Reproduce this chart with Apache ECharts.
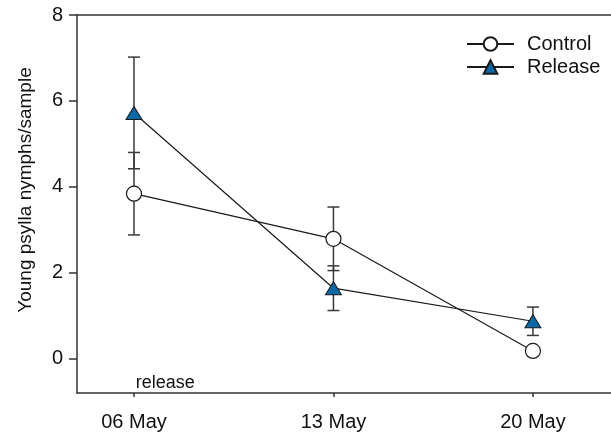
<!DOCTYPE html>
<html>
<head>
<meta charset="utf-8">
<script src="https://cdn.jsdelivr.net/npm/echarts@6/dist/echarts.min.js"></script>
<style>
  html, body { margin: 0; padding: 0; background: #fff; }
  #chart { width: 611px; height: 434px; }
</style>
</head>
<body>
<div id="chart"></div>
<script>
// Sampling days in May and their tick labels
const days = [6, 13, 20];
const dayLabels = ['06 May', '13 May', '20 May'];

// Mean young psylla nymphs per sample and standard errors
const controlMean = [3.84, 2.79, 0.18];
const controlErr = [0.96, 0.74, 0.10];
const releaseMean = [5.72, 1.64, 0.87];
const releaseErr = [1.30, 0.52, 0.33];

const yTicks = [0, 2, 4, 6, 8];

const FONT = '"Liberation Sans", Arial, sans-serif';

function pairs(xs, ys) { return xs.map((x, i) => [x, ys[i]]); }
function errRows(xs, m, e) { return xs.map((x, i) => [x, m[i] - e[i], m[i] + e[i]]); }

function errorBars(name, rows) {
  return {
    type: 'custom',
    name: name + ' SE',
    z: 1,
    silent: true,
    data: rows,
    renderItem: function (params, api) {
      const x = api.value(0);
      const lo = api.coord([x, api.value(1)]);
      const hi = api.coord([x, api.value(2)]);
      const hw = 6;
      const style = { stroke: '#3a3a3a', lineWidth: 1.5 };
      return {
        type: 'group',
        children: [
          { type: 'line', shape: { x1: lo[0], y1: lo[1], x2: hi[0], y2: hi[1] }, style: style },
          { type: 'line', shape: { x1: lo[0] - hw, y1: lo[1], x2: lo[0] + hw, y2: lo[1] }, style: style },
          { type: 'line', shape: { x1: hi[0] - hw, y1: hi[1], x2: hi[0] + hw, y2: hi[1] }, style: style }
        ]
      };
    }
  };
}

const chart = echarts.init(document.getElementById('chart'), null, { renderer: 'canvas' });

chart.setOption({
  animation: false,
  backgroundColor: '#ffffff',
  grid: { left: 77, top: 15, right: 0, bottom: 41, containLabel: false },
  legend: {
    orient: 'vertical',
    left: 461,
    top: 29,
    itemGap: 3,
    itemWidth: 47,
    itemHeight: 17,
    data: ['Control', 'Release'],
    textStyle: { fontFamily: FONT, fontSize: 20, color: '#111', padding: [0, 0, 0, 8] }
  },
  xAxis: [{
    type: 'value',
    min: 4,
    max: 22.74,
    axisLine: { show: true, onZero: false, lineStyle: { color: '#333', width: 1.5 } },
    axisTick: { show: true, length: 4, inside: false, customValues: days, lineStyle: { color: '#333', width: 1.5 } },
    axisLabel: {
      show: true,
      customValues: days,
      margin: 19,
      fontFamily: FONT,
      fontSize: 20,
      color: '#111',
      formatter: function (v) { return dayLabels[days.indexOf(v)] || ''; }
    },
    splitLine: { show: false }
  }, {
    type: 'value',
    position: 'top',
    min: 4,
    max: 22.74,
    axisLine: { show: true, onZero: false, lineStyle: { color: '#333', width: 1.5 } },
    axisTick: { show: false },
    axisLabel: { show: false },
    splitLine: { show: false }
  }],
  yAxis: {
    type: 'value',
    min: -0.8,
    max: 8,
    name: 'Young psylla nymphs/sample',
    nameLocation: 'middle',
    nameGap: 42,
    nameTextStyle: { fontFamily: FONT, fontSize: 19, color: '#111', padding: [0, 0, 0, 28] },
    axisLine: { show: true, onZero: false, lineStyle: { color: '#333', width: 1.5 } },
    axisTick: { show: true, length: 8, customValues: yTicks, lineStyle: { color: '#333', width: 1.5 } },
    axisLabel: {
      customValues: yTicks,
      margin: 14,
      fontFamily: FONT,
      fontSize: 20,
      color: '#111'
    },
    splitLine: { show: false }
  },
  series: [
    errorBars('Control', errRows(days, controlMean, controlErr)),
    errorBars('Release', errRows(days, releaseMean, releaseErr)),
    {
      name: 'Control',
      type: 'line',
      z: 3,
      data: pairs(days, controlMean),
      symbol: 'circle',
      symbolSize: 15,
      lineStyle: { color: '#1a1a1a', width: 1.2 },
      itemStyle: { color: '#ffffff', borderColor: '#1a1a1a', borderWidth: 1.2 }
    },
    {
      name: 'Release',
      type: 'line',
      z: 3,
      data: pairs(days, releaseMean),
      symbol: 'triangle',
      symbolSize: [16, 13],
      lineStyle: { color: '#1a1a1a', width: 1.2 },
      itemStyle: { color: '#0a6aa8', borderColor: '#1a1a1a', borderWidth: 1 },
      markPoint: {
        silent: true,
        symbol: 'rect',
        symbolSize: 0,
        data: [{ coord: [7.1, -0.56] }],
        label: {
          show: true,
          position: 'inside',
          formatter: 'release',
          fontFamily: FONT,
          fontSize: 18,
          color: '#111'
        }
      }
    }
  ]
});
</script>
</body>
</html>
